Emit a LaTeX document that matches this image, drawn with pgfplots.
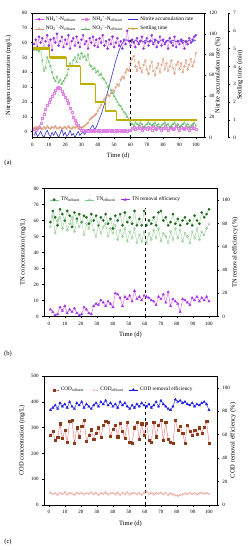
\documentclass[border=0pt]{standalone}
\usepackage{pgfplots}
\pgfplotsset{compat=1.18}
\usepackage{pgfplotstable}
\usepackage{fontspec}
\setmainfont{Liberation Serif}
\usetikzlibrary{arrows.meta}

\definecolor{cpur}{HTML}{9030E0}
\definecolor{cpurl}{HTML}{E050E0}
\definecolor{cpink}{HTML}{E07FE8}
\definecolor{corg}{HTML}{D8906E}
\definecolor{cgrn}{HTML}{5CB85C}
\definecolor{cblue}{HTML}{3535D0}
\definecolor{colive}{HTML}{BDB000}
\definecolor{cdgrn}{HTML}{1E6B1E}
\definecolor{clgrn}{HTML}{86C986}
\definecolor{cviol}{HTML}{A030F0}
\definecolor{cbrown}{HTML}{8B3A1A}
\definecolor{cred}{HTML}{EE5050}
\definecolor{csalm}{HTML}{E8A298}
\definecolor{cbl2}{HTML}{1A1AE6}

\pgfplotstableread{
day nin neff no2 no3 nar
1 59 1.5 2.5 55 2
2 62 1.0 3.0 56 5
3 57 2.0 2.0 55 1
4 64 3.0 3.5 54 3
5 60 6.0 2.5 56 6
6 63 9.0 1.5 48 2
7 56 12 3.0 41 0
8 61 15 2.0 43 4
9 65 18 3.5 50 7
10 58 20 2.5 47 3
11 62 22 2.0 44 1
12 55 24 3.0 40 5
13 63 26 2.5 36 2
14 60 28 3.5 34 6
15 66 29 2.0 37 3
16 58 30 2.5 33 0
17 61 29 3.0 35 4
18 64 27 2.0 32 8
19 57 25 2.5 34 2
20 62 23 3.0 36 5
21 59 21 2.0 38 1
22 65 19 3.5 42 3
23 56 16 2.5 46 7
24 61 13 2.0 44 2
25 63 10 3.0 48 4
26 58 8 2.5 50 0
27 64 6 3.5 47 3
28 60 4 2.0 52 6
29 57 2 3.0 49 2
30 62 1 2.5 53 4
31 65 1 3.0 50 5
32 59 0.5 4.0 51 3
33 61 1 5.0 48 6
34 56 0.5 6.0 52 8
35 63 1 8.0 45 7
36 60 0.5 9.0 44 10
37 64 1 10 42 12
38 58 0.5 11 43 8
39 62 1 12 40 10
40 57 0.5 14 41 14
41 63 1 16 38 18
42 60 0.5 18 39 22
43 65 1 20 36 27
44 58 0.5 22 35 32
45 61 1 23 33 38
46 56 0.5 25 30 44
47 62 1 24 31 50
48 59 0.5 26 28 56
49 64 1 28 26 62
50 57 0.5 27 24 68
51 60 1 30 22 74
52 63 0.5 32 20 79
53 58 1 31 18 84
54 61 0.5 35 17 88
55 56 1 37 15 91
56 62 0.5 36 13 93
57 59 1 40 12 94
58 68 0.5 42 10 94
59 61 1 41 8 93
60 58 1 46 6 94
61 62 2 49 5 93
62 60 3 51 4 92
63 57 1.5 44 6 94
64 63 2.5 41 5 93
65 59 3.5 47 4 91
66 61 2 43 6 94
67 64 1 40 5 93
68 56 3 45 3 92
69 60 2 48 4 94
70 63 1.5 42 5 93
71 58 3 39 6 92
72 61 2.5 44 5 94
73 65 1 47 4 93
74 59 3.5 41 5 91
75 62 2 38 6 93
76 57 1.5 43 4 94
77 60 3 46 5 92
78 64 2.5 40 3 93
79 58 1 45 4 94
80 62 2 49 5 93
81 59 3.5 42 6 91
82 61 2.5 46 4 93
83 56 1 41 5 94
84 63 2 44 3 92
85 60 3 48 4 93
86 58 1.5 43 5 94
87 64 2.5 39 6 93
88 57 3.5 45 4 92
89 61 2 47 5 94
90 59 1 42 3 93
91 62 3 46 4 92
92 60 2.5 40 5 94
93 56 1.5 44 6 93
94 61 3 48 4 91
95 59 2 42 5 93
96 63 1 45 3 94
97 60 2.5 49 4 93
98 62 3.5 44 5 92
99 64 2 47 6 94
100 65 1.5 53 4 93
}\tabA

\pgfplotstableread{
day set
0 5
10.5 4.5
20.5 4
29 3
38.5 2
44.5 1.5
51 1
100.5 1
}\tabS

\pgfplotstableread{
day tin teff eff
1 59 56 6
2.5 66 63 4
4 62 52 1
5.5 57 60 2
7 67 62 8
8.5 64 55 5
10 60 61 9
11.5 66 54 3
13 63 58 6
14.5 56 62 4
16 65 53 7
17.5 61 60 3
19 64 56 1
20.5 59 59 2
22 63 51 8
23.5 62 58 6
25 58 55 3
26.5 64 60 2
28 60 54 9
29.5 63 50 11
31 57 57 10
32.5 62 52 14
34 60 56 12
35.5 64 58 9
37 58 50 13
38.5 61 55 11
40 55 52 8
41.5 63 57 20
43 60 48 19
44.5 64 54 16
46 57 50 9
47.5 65 55 17
49 59 47 15
50.5 62 53 18
52 58 49 13
53.5 66 55 22
55 57 46 15
56.5 61 51 17
58 57 47 14
59.5 66 53 18
61 57 46 17
62.5 60 52 16
64 58 48 14
65.5 62 54 13
67 57 49 10
68.5 65 55 17
70 66 47 15
71.5 60 52 19
73 62 50 12
74.5 57 46 21
76 59 53 9
77.5 64 48 15
79 58 55 13
80.5 61 49 11
82 57 54 4
83.5 60 47 15
85 62 52 14
86.5 58 50 12
88 60 46 10
89.5 57 53 16
91 63 49 14
92.5 60 55 17
94 58 48 13
95.5 65 53 16
97 62 51 14
98.5 64 55 17
100 67 58 13
}\tabB

\pgfplotstableread{
day cin ceff eff
1 270 48 81
2.5 285 42 83
4 250 46 85
5.5 262 40 82
7 315 47 87
8.5 258 43 84
10 290 49 86
11.5 245 41 83
13 325 46 88
14.5 328 44 84
16 240 40 82
17.5 300 48 87
19 265 43 85
20.5 305 47 88
22 330 41 83
23.5 248 46 86
25 270 44 84
26.5 292 49 82
28 255 42 85
29.5 280 47 87
31 300 40 84
32.5 262 46 88
34 310 43 86
35.5 326 48 89
37 322 41 85
38.5 268 45 87
40 295 47 84
41.5 310 42 86
43 265 48 83
44.5 318 40 88
46 285 46 85
47.5 260 43 87
49 320 49 84
50.5 245 41 82
52 240 45 85
53.5 300 47 83
55 320 42 86
56.5 255 46 84
58 315 40 87
59.5 270 48 85
61 318 52 84
62.5 250 43 86
64 245 47 83
65.5 322 41 85
67 265 46 88
68.5 310 44 84
70 328 48 89
71.5 250 42 86
73 320 46 84
74.5 255 40 82
76 245 45 81
77.5 240 41 84
79 330 38 90
80.5 290 36 88
82 305 39 89
83.5 280 41 87
85 240 45 88
86.5 310 42 86
88 285 47 85
89.5 270 43 87
91 290 46 84
92.5 275 41 86
94 300 45 85
95.5 280 48 87
97 302 44 88
98.5 325 46 86
100 240 43 81
}\tabC

\newcommand{\lab}{\fontsize{6.5}{7.5}\selectfont}
\pgfplotsset{
  base/.style={scale only axis, tick align=outside, major tick length=1.8pt,
    tick style={black, line width=0.4pt}, axis line style={line width=0.5pt},
    tick label style={font=\fontsize{5}{6}\selectfont},
    label style={font=\lab},
    /pgf/number format/assume math mode=true,
    legend image code/.code={\draw[mark repeat=2,mark phase=2] plot coordinates {(0cm,0cm) (0.16cm,0cm) (0.32cm,0cm)};},
    legend style={draw=none, fill=none, font=\fontsize{5.3}{6.3}\selectfont, inner sep=0pt,
      /tikz/every even column/.append style={column sep=3pt}},
    legend cell align=left},
  rightax/.style={base, axis y line*=right, axis x line=none},
  ylab/.style 2 args={ylabel style={at={([xshift=#2]axis description cs:#1,0.5)}, anchor=center, font=\lab}},
}

\begin{document}
\begin{tikzpicture}
\path[use as bounding box] (0,0) rectangle (248pt,-550pt);

% ---------------- (a) ----------------
\begin{axis}[rightax, at={(32.5pt,-137.5pt)}, anchor=south west, width=171.5pt, height=124.5pt,
  xmin=0, xmax=105, ymin=0, ymax=120, ytick={0,20,...,120},
  ylabel={Nitrite accumulation rate (\%)}, ylab={1}{14pt}]
\addplot[cblue, line width=0.6pt] table[x=day,y=nar]{\tabA};
\end{axis}

\begin{axis}[base, at={(32.5pt,-137.5pt)}, anchor=south west, width=171.5pt, height=124.5pt,
  xmin=0, xmax=105, ymin=-4, ymax=80, xtick={0,10,...,100}, ytick={0,10,...,80},
  ytick pos=left, xtick pos=bottom, xlabel={Time (d)}, ylabel={Nitrogen concentration (mg/L)},
  ylab={0}{-24pt},
  legend columns=3, legend style={at={(0.01,0.99)}, anchor=north west}]
\addplot[cpurl, line width=0.3pt, mark=*, mark size=1.1pt, mark options={fill=cpur, draw=cpur}] table[x=day,y=nin]{\tabA};
\addlegendentry{NH\textsubscript{4}\textsuperscript{+}-N\textsubscript{influent}}
\addplot[cpink, line width=0.3pt, mark=square, mark size=1pt] table[x=day,y=neff]{\tabA};
\addlegendentry{NH\textsubscript{4}\textsuperscript{+}-N\textsubscript{effluent}}
\addlegendimage{cblue, line width=0.6pt}
\addlegendentry{Nitrite accumulation rate}
\addplot[corg, line width=0.3pt, mark=o, mark size=1.1pt] table[x=day,y=no2]{\tabA};
\addlegendentry{NO\textsubscript{2}\textsuperscript{−}-N\textsubscript{effluent}}
\addplot[cgrn, line width=0.3pt, mark=triangle, mark size=1.2pt] table[x=day,y=no3]{\tabA};
\addlegendentry{NO\textsubscript{3}\textsuperscript{−}-N\textsubscript{effluent}}
\addlegendimage{colive, line width=1.6pt, mark=star, mark size=1.6pt, mark options={draw=corg, line width=0.4pt}}
\addlegendentry{Settling time}
\draw[dashed, line width=0.5pt, -{Stealth[length=3pt,width=2.4pt]}] (axis cs:60,-4) -- (axis cs:60,62);
\node[anchor=south, font=\lab, inner sep=1pt] at (axis cs:26,80) {Phase I};
\node[anchor=south, font=\lab, inner sep=1pt] at (axis cs:81,80) {Phase II};
\end{axis}

\begin{axis}[rightax, at={(32.5pt,-137.5pt)}, anchor=south west, width=195.5pt, height=124.5pt,
  xmin=0, xmax=119.7, ymin=0, ymax=7, ytick={0,1,...,7},
  ylabel={Settling time (min)}, ylab={1}{12pt}]
\addplot[const plot, colive, line width=0.5pt] table[x=day,y=set]{\tabS};
\addplot[colive, line width=2.2pt, unbounded coords=jump] coordinates {
(0,5) (10.5,5) (nan,nan) (10.5,4.5) (20.5,4.5) (nan,nan) (20.5,4) (29,4) (nan,nan)
(29,3) (38.5,3) (nan,nan) (38.5,2) (44.5,2) (nan,nan) (44.5,1.5) (51,1.5) (nan,nan) (51,1) (100.5,1)};
\end{axis}
\node[font=\lab] at (8pt,-163pt) {(a)};

% ---------------- (b) ----------------
\begin{axis}[base, at={(44pt,-316.5pt)}, anchor=south west, width=173pt, height=128pt,
  xmin=-3, xmax=105, ymin=0, ymax=80, xtick={0,10,...,100}, ytick={0,10,...,80},
  ytick pos=left, xtick pos=bottom, xlabel={Time (d)}, ylabel={TN concentration (mg/L)},
  ylab={0}{-21pt},
  legend columns=3, legend style={at={(0.03,0.95)}, anchor=north west}]
\addplot[clgrn, line width=0.3pt, mark=*, mark size=1.2pt, mark options={fill=cdgrn, draw=cdgrn}] table[x=day,y=tin]{\tabB};
\addlegendentry{TN\textsubscript{influent}}
\addplot[clgrn, line width=0.3pt, mark=o, mark size=1.2pt] table[x=day,y=teff]{\tabB};
\addlegendentry{TN\textsubscript{effluent}}
\addlegendimage{cviol, line width=0.5pt, mark=triangle*, mark size=1.3pt}
\addlegendentry{TN removal efficiency}
\draw[dashed, line width=0.5pt] (axis cs:60,0) -- (axis cs:60,68);
\node[anchor=south, font=\lab, inner sep=1pt] at (axis cs:13,80) {Phase I};
\node[anchor=south, font=\lab, inner sep=1pt] at (axis cs:77,80) {Phase II};
\end{axis}
\begin{axis}[rightax, at={(44pt,-316.5pt)}, anchor=south west, width=173pt, height=128pt,
  xmin=-3, xmax=105, ymin=0, ymax=110, ytick={0,20,...,100},
  ylabel={TN removal efficiency (\%)}, ylab={1}{18pt}]
\addplot[cpurl, line width=0.4pt, mark=triangle*, mark size=1.3pt, mark options={fill=cviol, draw=cviol}] table[x=day,y=eff]{\tabB};
\end{axis}
\node[font=\lab] at (8pt,-354pt) {(b)};

% ---------------- (c) ----------------
\begin{axis}[base, at={(44pt,-505pt)}, anchor=south west, width=173pt, height=129pt,
  xmin=-3, xmax=105, ymin=0, ymax=500, xtick={0,10,...,100}, ytick={0,100,...,500},
  ytick pos=left, xtick pos=bottom, xlabel={Time (d)}, ylabel={COD concentration (mg/L)},
  ylab={0}{-22pt},
  legend columns=3, legend style={at={(0.03,0.93)}, anchor=north west}]
\addplot[cred, line width=0.3pt, mark=square*, mark size=1.1pt, mark options={fill=cbrown, draw=cbrown}] table[x=day,y=cin]{\tabC};
\addlegendentry{COD\textsubscript{influent}}
\addplot[csalm, line width=0.3pt, mark=o, mark size=1.1pt] table[x=day,y=ceff]{\tabC};
\addlegendentry{COD\textsubscript{effluent}}
\addlegendimage{cbl2, line width=0.5pt, mark=triangle*, mark size=1.3pt}
\addlegendentry{COD removal efficiency}
\draw[dashed, line width=0.5pt] (axis cs:60,0) -- (axis cs:60,400);
\node[anchor=south, font=\lab, inner sep=1pt] at (axis cs:22,500) {Phase I};
\node[anchor=south, font=\lab, inner sep=1pt] at (axis cs:82,500) {Phase II};
\end{axis}
\begin{axis}[rightax, at={(44pt,-505pt)}, anchor=south west, width=173pt, height=129pt,
  xmin=-3, xmax=105, ymin=0, ymax=110, ytick={0,20,...,100},
  ylabel={COD removal efficiency (\%)}, ylab={1}{16pt}]
\addplot[cbl2, line width=0.4pt, mark=triangle*, mark size=1.3pt, mark options={fill=cbl2}] table[x=day,y=eff]{\tabC};
\end{axis}
\node[font=\lab] at (8pt,-542pt) {(c)};
\end{tikzpicture}
\end{document}
